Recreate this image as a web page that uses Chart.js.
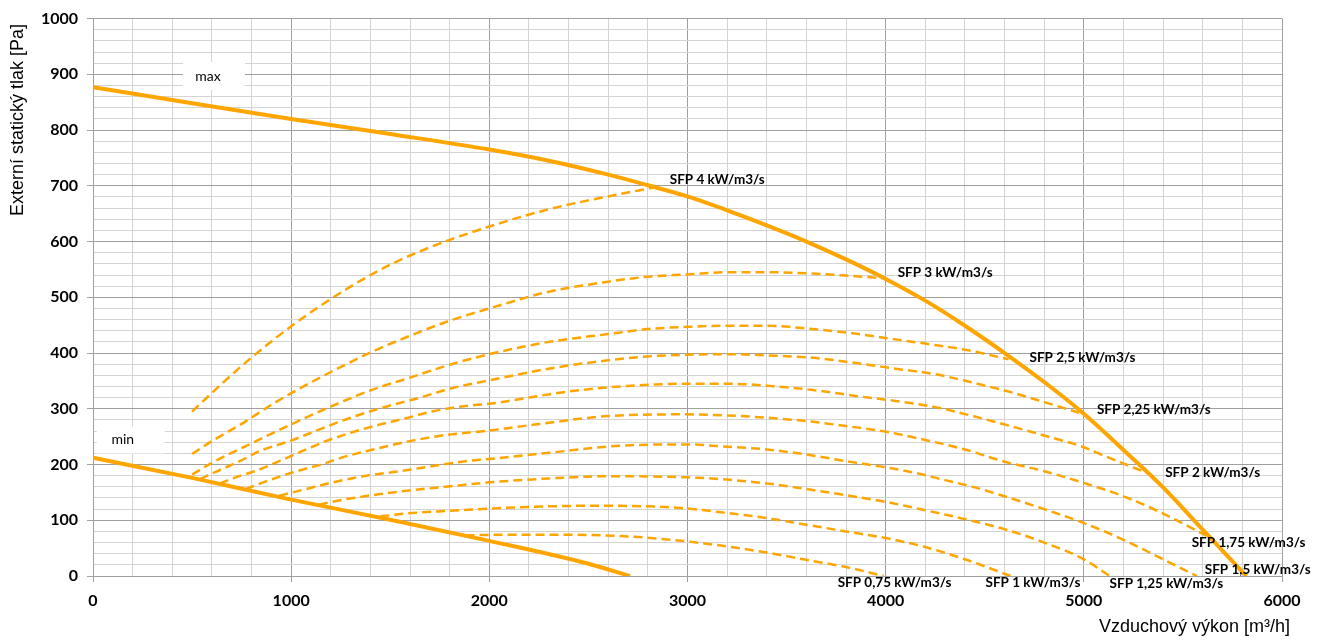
<!DOCTYPE html>
<html><head><meta charset="utf-8">
<script src="https://cdn.jsdelivr.net/npm/chart.js@4/dist/chart.umd.min.js"></script>
<style>html,body{margin:0;padding:0;background:#fff}canvas{display:block}</style>
</head><body>
<canvas id="c" width="1325" height="641"></canvas>
<script>
// ---- data ----
const xTickValues = [0, 1000, 2000, 3000, 4000, 5000, 6000];
const yTickValues = [0, 100, 200, 300, 400, 500, 600, 700, 800, 900, 1000];
const xTitle = 'Vzduchový výkon [m³/h]';
const yTitle = 'Externí statický tlak [Pa]';
const maxLabel = 'max';
const minLabel = 'min';

const maxCurve = [[0,877],[500,848],[1000,820],[1500,793],[2000,765],[2300,745],[2600,720],[2800,701],[3000,681],[3200,656],[3400,629],[3600,600],[3800,568],[4000,533],[4200,494],[4400,449],[4600,400],[4800,348],[5000,291],[5200,226],[5400,159],[5600,83],[5820,0]];
const minCurve = [[0,212],[500,176],[1000,137],[1500,101],[2000,63],[2500,22],[2710,0]];

const sfp4   = [[500,295],[650,345],[800,392],[1000,448],[1200,497],[1400,540],[1600,575],[1800,603],[2000,627],[2300,658],[2600,681],[2830,697]];
const sfp3   = [[500,219],[600,242],[750,273],[900,307],[1000,328],[1200,366],[1400,401],[1600,431],[1800,458],[2000,480],[2300,510],[2600,528],[2800,537],[3000,541],[3200,545],[3400,545],[3600,543],[3800,539],[4000,534]];
const sfp2_5 = [[500,182],[600,203],[800,238],[1000,272],[1200,304],[1400,333],[1600,356],[1800,379],[2000,398],[2300,420],[2600,434],[2800,443],[3000,447],[3200,449],[3400,449],[3600,444],[3800,437],[4000,427],[4200,417],[4400,406],[4620,389]];
const sfp2_25= [[540,174],[620,187],[740,206],[840,224],[1000,243],[1150,264],[1300,284],[1500,306],[1650,320],[1800,336],[2000,351],[2300,372],[2600,387],[2800,394],[3000,397],[3200,398],[3450,395],[3650,391],[3850,382],[4050,372],[4250,362],[4450,346],[4650,328],[4800,312],[4975,293]];
const sfp2   = [[640,166],[720,177],[840,191],[940,206],[1075,227],[1175,242],[1300,257],[1450,272],[1580,283],[1710,295],[1880,305],[2000,309],[2400,331],[2700,341],[3000,345],[3200,345],[3450,340],[3650,333],[3850,323],[4050,314],[4250,303],[4450,286],[4650,267],[4800,252],[5000,231],[5100,216],[5340,182]];
const sfp1_75= [[770,156],[890,172],[1000,185],[1150,200],[1280,215],[1450,230],[1600,242],[1780,253],[2000,261],[2300,275],[2600,287],[3000,290],[3200,288],[3400,284],[3600,278],[3800,269],[4000,259],[4200,244],[4400,227],[4600,205],[4800,188],[5000,167],[5200,143],[5400,112],[5620,72]];
const sfp1_5 = [[940,144],[1075,156],[1210,168],[1380,180],[1550,188],[1710,197],[1880,206],[2000,210],[2300,221],[2670,234],[3000,236],[3200,232],[3400,227],[3600,218],[3800,206],[4000,195],[4150,185],[4300,172],[4450,159],[4600,143],[4800,120],[5000,95],[5200,65],[5400,30],[5570,0]];
const sfp1_25= [[1140,128],[1280,138],[1450,147],[1610,154],[1780,160],[2000,168],[2300,175],[2600,179],[3000,177],[3200,173],[3400,166],[3600,156],[3800,145],[4000,133],[4200,118],[4400,102],[4600,84],[4800,60],[5000,30],[5130,0]];
const sfp1   = [[1450,107],[1610,113],[1800,117],[2000,121],[2200,124],[2500,126],[2800,125],[3000,121],[3200,113],[3400,104],[3600,92],[3800,80],[4000,68],[4200,52],[4400,30],[4630,0]];
const sfp0_75= [[1880,73],[2100,74],[2400,74],[2700,71],[3000,62],[3200,53],[3400,42],[3600,29],[3800,16],[3990,0]];

const sfpSeries = [sfp4, sfp3, sfp2_5, sfp2_25, sfp2, sfp1_75, sfp1_5, sfp1_25, sfp1, sfp0_75];
const sfpLabels = ['SFP 4 kW/m3/s','SFP 3 kW/m3/s','SFP 2,5 kW/m3/s','SFP 2,25 kW/m3/s','SFP 2 kW/m3/s','SFP 1,75 kW/m3/s','SFP 1,5 kW/m3/s','SFP 1,25 kW/m3/s','SFP 1 kW/m3/s','SFP 0,75 kW/m3/s'];

// ---- styling ----
const ORANGE = '#FFA500';
const MAJOR = '#a0a0a0', MINOR = '#d4d4d4';
const labelOffsets = [[16,-8],[12,-6],[21,-2],[18,-3],[14,-1.5],[-15,7],[8,-6],[0,8],[-25,7],[-46,7]];

const toPts = arr => arr.map(p => ({x: p[0], y: p[1]}));

const datasets = [
  {data: toPts(maxCurve), borderColor: ORANGE, borderWidth: 4},
  {data: toPts(minCurve), borderColor: ORANGE, borderWidth: 4}
].concat(sfpSeries.map(s => ({data: toPts(s), borderColor: ORANGE, borderWidth: 2.5, borderDash: [9,5]})));

const annot = {
  id: 'annot',
  beforeDatasetsDraw(chart) {
    const ctx = chart.ctx, xs = chart.scales.x, ys = chart.scales.y;
    ctx.save();
    ctx.font = '14px Lato';
    ctx.textBaseline = 'middle';
    ctx.textAlign = 'center';
    let cx = xs.getPixelForValue(580), cy = ys.getPixelForValue(897);
    ctx.fillStyle = '#fff'; ctx.fillRect(cx - 25, cy - 14, 62, 28);
    ctx.fillStyle = '#000'; ctx.fillText(maxLabel, cx, cy);
    cx = xs.getPixelForValue(150); cy = ys.getPixelForValue(245);
    ctx.fillStyle = '#fff'; ctx.fillRect(cx - 26, cy - 13, 68, 27);
    ctx.fillStyle = '#000'; ctx.fillText(minLabel, cx, cy);
    ctx.restore();
  },
  afterDatasetsDraw(chart) {
    const ctx = chart.ctx, xs = chart.scales.x, ys = chart.scales.y;
    ctx.save();
    ctx.font = 'bold 13.5px Lato';
    ctx.fillStyle = '#000';
    ctx.textBaseline = 'middle';
    ctx.textAlign = 'left';
    sfpSeries.forEach((s, i) => {
      const e = s[s.length - 1];
      ctx.fillText(sfpLabels[i], xs.getPixelForValue(e[0]) + labelOffsets[i][0], ys.getPixelForValue(e[1]) + labelOffsets[i][1]);
    });
    ctx.restore();
  },
  afterDraw(chart) {
    const ctx = chart.ctx;
    ctx.save();
    ctx.fillStyle = '#000';
    ctx.font = '18px "Liberation Sans", Arial, sans-serif';
    ctx.textAlign = 'right';
    ctx.textBaseline = 'middle';
    ctx.fillText(xTitle, 1290, 627);
    ctx.translate(18, 120);
    ctx.rotate(-Math.PI / 2);
    ctx.textAlign = 'center';
    ctx.fillText(yTitle, 0, 0);
    ctx.restore();
  }
};

new Chart(document.getElementById('c'), {
  type: 'line',
  data: {datasets},
  plugins: [annot],
  options: {
    responsive: false,
    animation: false,
    devicePixelRatio: 1,
    layout: {padding: {left: 0, right: 43, top: 14, bottom: 0}},
    elements: {point: {radius: 0}, line: {cubicInterpolationMode: 'monotone', fill: false}},
    plugins: {legend: {display: false}, tooltip: {enabled: false}},
    scales: {
      x: {
        type: 'linear', min: 0, max: 6000,
        afterFit: s => { s.height = 65; },
        ticks: {stepSize: 200, autoSkip: false, maxRotation: 0, padding: 9, color: '#000',
          font: {family: 'Lato', size: 16, weight: 'bold'},
          callback: v => xTickValues.includes(v) ? String(v) : ''},
        grid: {color: c => (c.tick && c.tick.value % 1000 === 0) ? MAJOR : MINOR, lineWidth: 1, tickLength: 6,
          tickColor: c => (c.tick && c.tick.value % 1000 === 0) ? MAJOR : 'rgba(0,0,0,0)'},
        border: {color: MAJOR}
      },
      y: {
        type: 'linear', min: 0, max: 1000,
        afterFit: s => { s.width = 93; },
        ticks: {stepSize: 20, autoSkip: false, padding: 9, color: '#000',
          font: {family: 'Lato', size: 16, weight: 'bold'},
          callback: v => yTickValues.includes(v) ? String(v) : ''},
        grid: {color: c => (c.tick && c.tick.value % 100 === 0) ? MAJOR : MINOR, lineWidth: 1, tickLength: 6,
          tickColor: c => (c.tick && c.tick.value % 100 === 0) ? MAJOR : 'rgba(0,0,0,0)'},
        border: {color: MAJOR}
      }
    }
  }
});
</script>
</body></html>
